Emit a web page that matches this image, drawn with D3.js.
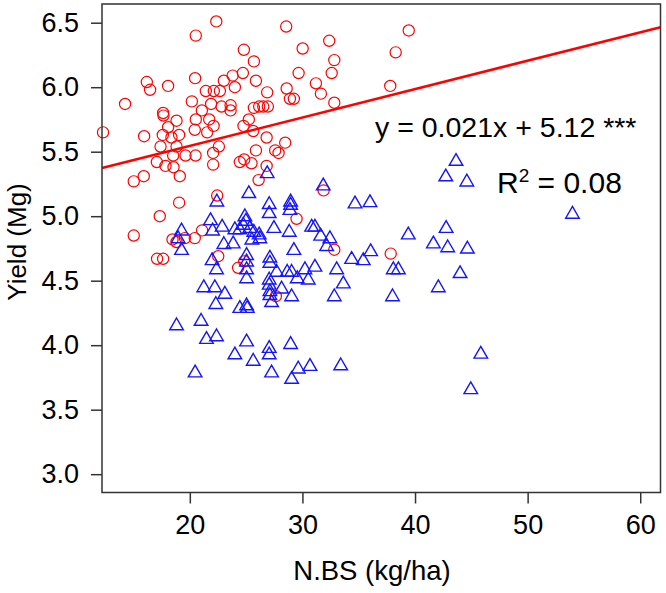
<!DOCTYPE html>
<html>
<head>
<meta charset="utf-8">
<script src="https://cdn.jsdelivr.net/npm/d3@7"></script>
<style>
  html, body { margin: 0; padding: 0; background: #fff; }
  svg { display: block; font-family: "Liberation Sans", Arial, sans-serif; }
</style>
</head>
<body>
<svg id="chart" width="666" height="593"></svg>
<script>
// ---- Data ----
const xTicks = [20, 30, 40, 50, 60];
const yTicks = [3.0, 3.5, 4.0, 4.5, 5.0, 5.5, 6.0, 6.5];
const xDomain = [12.2, 61.8];
const yDomain = [2.858, 6.645];

// red circles: [N.BS, Yield]
const redPoints = [
  [12.29,5.65],[14.25,5.87],[16.18,6.04],[16.47,5.98],[18.07,6.01],[20.53,6.40],[22.35,6.51],[20.47,6.07],
  [20.18,5.89],[17.63,5.80],[17.66,5.78],[18.82,5.74],[21.07,5.82],[20.53,5.75],[21.42,5.97],[21.89,5.87],
  [21.72,5.75],[22.11,5.70],[21.54,5.65],[20.44,5.67],[18.07,5.69],[15.94,5.62],[17.6,5.63],[18.37,5.61],
  [19.05,5.63],[17.4,5.54],[18.82,5.54],[18.52,5.47],[19.62,5.47],[20.51,5.47],[22.07,5.49],[22.07,5.40],
  [17.07,5.42],[17.84,5.39],[18.55,5.38],[19.11,5.31],[15.91,5.31],[15.02,5.27],
  [28.56,6.47],[39.44,6.44],[32.38,6.36],[30.02,6.30],[24.8,6.29],[38.28,6.27],[32.83,6.21],[25.69,6.20],
  [29.66,6.11],[32.6,6.11],[24.71,6.11],[23.8,6.09],[23.02,6.05],[25.87,6.05],[31.2,6.03],[24.0,6.00],
  [37.8,6.01],[28.6,5.99],[31.64,5.95],[26.87,5.96],[22.13,5.97],[22.67,5.97],[28.89,5.91],[29.24,5.91],
  [22.82,5.85],[23.62,5.86],[23.62,5.82],[32.83,5.88],[25.69,5.84],[26.16,5.85],[26.52,5.85],[26.93,5.85],
  [25.24,5.75],[24.77,5.70],[25.63,5.66],[22.58,5.54],[26.82,5.61],[28.47,5.57],[27.58,5.51],[27.88,5.49],
  [25.87,5.51],[24.83,5.44],[25.48,5.41],[24.44,5.42],[26.82,5.39],[26.11,5.28],[22.43,5.16],[31.88,5.20],
  [19.05,5.105],[17.33,5.00],[15.02,4.85],[18.46,4.82],[18.82,4.80],[19.56,4.83],[20.44,4.83],[21.09,4.89],
  [17.09,4.67],[17.63,4.67],[22.52,4.69],[29.48,4.98],[32.83,4.74],[37.84,4.71],[24.83,4.65],[24.29,4.60],
  [27.64,4.38]
];

// blue triangles: [N.BS, Yield]
const bluePoints = [
  [26.87,5.345],[31.85,5.25],[25.24,5.19],[42.73,5.32],[22.4,5.125],[21.84,4.98],[19.26,4.90],[18.96,4.84],
  [19.26,4.75],[22.02,4.90],[21.98,4.67],[22.37,4.60],[21.24,4.46],[22.22,4.46],[22.31,4.33],[18.82,4.165],
  [21.0,4.20],[21.48,4.06],[22.37,4.08],[20.47,3.80],[34.67,5.11],[36.0,5.12],[27.05,5.105],[27.05,5.035],
  [28.95,5.125],[28.95,5.10],[28.89,5.06],[24.89,5.01],[24.98,4.976],[24.74,4.945],[25.33,4.92],[25.69,4.89],
  [26.16,4.87],[26.22,4.84],[24.44,4.91],[25.51,4.83],[22.87,4.93],[24.0,4.91],[27.47,4.92],[28.83,4.89],
  [30.82,4.93],[31.11,4.93],[31.62,4.86],[32.44,4.84],[39.40,4.87],[42.76,4.92],[41.63,4.80],[42.9,4.77],
  [44.65,4.76],[23.02,4.795],[23.85,4.80],[32.15,4.78],[29.24,4.75],[36.06,4.74],[34.37,4.68],[35.4,4.67],
  [25.04,4.71],[25.04,4.66],[27.11,4.69],[27.11,4.65],[31.11,4.62],[30.22,4.60],[33.04,4.60],[38.07,4.60],
  [38.52,4.60],[25.04,4.60],[27.71,4.58],[28.65,4.58],[29.04,4.58],[29.54,4.53],[30.52,4.52],[25.04,4.53],
  [27.05,4.52],[27.05,4.48],[33.63,4.49],[28.15,4.45],[27.11,4.43],[27.11,4.40],[23.11,4.41],[29.04,4.39],
  [32.83,4.39],[38.0,4.39],[42.07,4.46],[44.0,4.57],[27.26,4.345],[25.04,4.32],[24.44,4.30],[25.1,4.30],
  [25.04,4.04],[27.05,3.99],[27.05,3.94],[28.95,4.02],[24.0,3.94],[25.63,3.89],[27.26,3.80],[29.63,3.83],
  [30.67,3.85],[33.40,3.855],[29.04,3.75],[43.64,5.44],[44.6,5.28],[53.98,5.03],[45.84,3.945],[44.95,3.67]
];

// fitted line as drawn (slope, intercept)
const fitLine = { slope: 0.022, intercept: 5.105 };
const equationText = "y = 0.021x + 5.12 ***";
const r2Label = ["R", "2", " = 0.08"];
const xTitle = "N.BS (kg/ha)";
const yTitle = "Yield (Mg)";

// ---- Layout ----
const plot = { left: 102, right: 660.5, top: 4, bottom: 492.5 };
const svg = d3.select("#chart");

const x = d3.scaleLinear().domain(xDomain).range([plot.left, plot.right]);
const y = d3.scaleLinear().domain(yDomain).range([plot.bottom, plot.top]);

// bbox-centred upward triangle (like R pch = 2)
const triUp = {
  draw(ctx, size) {
    const w = Math.sqrt(size * 4 / Math.sqrt(3)); // equilateral side
    const h = w * Math.sqrt(3) / 2;
    ctx.moveTo(0, -h / 2);
    ctx.lineTo(w / 2, h / 2);
    ctx.lineTo(-w / 2, h / 2);
    ctx.closePath();
  }
};

// points
svg.append("g")
  .selectAll("circle")
  .data(redPoints)
  .join("circle")
  .attr("cx", d => x(d[0]))
  .attr("cy", d => y(d[1]))
  .attr("r", 5.6)
  .attr("fill", "none")
  .attr("stroke", "#ff0000")
  .attr("stroke-width", 1.2);

svg.append("g")
  .selectAll("path")
  .data(bluePoints)
  .join("path")
  .attr("transform", d => `translate(${x(d[0])},${y(d[1])})`)
  .attr("d", d3.symbol(triUp, 80)())
  .attr("fill", "none")
  .attr("stroke", "#1414ff")
  .attr("stroke-width", 1.4);

// regression line
svg.append("line")
  .attr("x1", x(xDomain[0])).attr("y1", y(fitLine.intercept + fitLine.slope * xDomain[0]))
  .attr("x2", x(xDomain[1])).attr("y2", y(fitLine.intercept + fitLine.slope * xDomain[1]))
  .attr("stroke", "#ff0000")
  .attr("stroke-width", 2.6);

// frame
svg.append("rect")
  .attr("x", plot.left).attr("y", plot.top)
  .attr("width", plot.right - plot.left).attr("height", plot.bottom - plot.top)
  .attr("fill", "none").attr("stroke", "#333").attr("stroke-width", 1.5);

// axes
const yAxis = svg.append("g")
  .attr("transform", `translate(${plot.left},0)`)
  .call(d3.axisLeft(y).tickValues(yTicks).tickFormat(d3.format(".1f")).tickSize(11).tickPadding(12));
const xAxis = svg.append("g")
  .attr("transform", `translate(0,${plot.bottom})`)
  .call(d3.axisBottom(x).tickValues(xTicks).tickFormat(d3.format("d")).tickSize(11).tickPadding(11));

[xAxis, yAxis].forEach(g => {
  g.select(".domain").remove();
  g.selectAll(".tick line").attr("stroke", "#333").attr("stroke-width", 1.5);
  g.selectAll(".tick text")
    .attr("fill", "#000")
    .style("font-family", '"Liberation Sans", Arial, sans-serif')
    .style("font-size", "27px");
});

// axis titles
svg.append("text")
  .attr("x", 372).attr("y", 580)
  .attr("text-anchor", "middle")
  .style("font-size", "27.5px")
  .text(xTitle);

svg.append("text")
  .attr("transform", "translate(26,242) rotate(-90)")
  .attr("text-anchor", "middle")
  .style("font-size", "26px")
  .text(yTitle);

// annotations
svg.append("text")
  .attr("x", 375).attr("y", 137)
  .style("font-size", "28.5px")
  .text(equationText);

const r2 = svg.append("text")
  .attr("x", 497).attr("y", 193)
  .style("font-size", "30px");
r2.append("tspan").text(r2Label[0]);
r2.append("tspan").attr("dy", -11).style("font-size", "19px").text(r2Label[1]);
r2.append("tspan").attr("dy", 11).text(r2Label[2]);
</script>
</body>
</html>
